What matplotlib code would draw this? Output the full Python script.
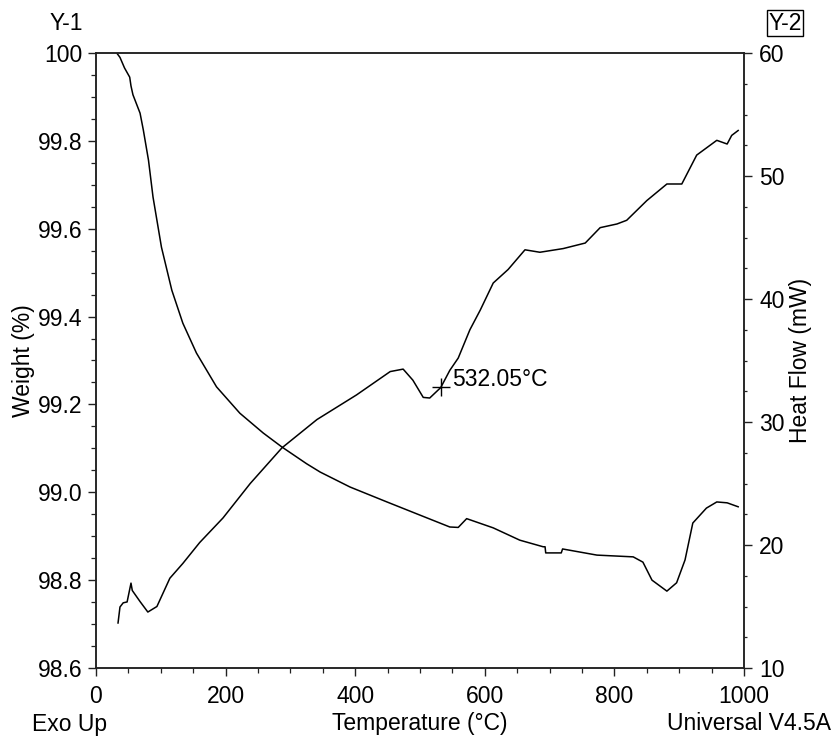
import matplotlib
matplotlib.use("Agg")
import matplotlib.pyplot as plt
import numpy as np
from matplotlib.ticker import MultipleLocator

plt.rcParams['font.family'] = ['Liberation Sans', 'DejaVu Sans']

# Weight curve (left axis, %)
weight_temp = [32, 37, 44, 52, 54, 57, 68, 73, 81, 88, 101, 117, 134, 155, 186, 222,
               258, 287, 325, 346, 392, 449, 500, 546, 559, 572, 613, 654, 690, 693,
               694, 718, 720, 773, 829, 844, 858, 881, 896, 909, 921, 942, 958, 974, 991]
weight_pct = [100.0, 99.99, 99.966, 99.945, 99.925, 99.905, 99.863, 99.825, 99.756,
              99.672, 99.558, 99.46, 99.385, 99.317, 99.24, 99.18, 99.135, 99.103,
              99.065, 99.046, 99.012, 98.978, 98.948, 98.921, 98.92, 98.94, 98.919,
              98.891, 98.876, 98.876, 98.862, 98.862, 98.871, 98.857, 98.853, 98.841,
              98.80, 98.775, 98.794, 98.846, 98.93, 98.964, 98.978, 98.976, 98.967]

# Heat flow curve (right axis, mW)
heat_temp = [34, 37, 42, 48, 54, 56, 68, 80, 94, 114, 134, 160, 196, 238, 287, 341,
             402, 454, 474, 489, 505, 515, 532, 546, 559, 577, 593, 613, 636, 662, 685,
             721, 755, 778, 804, 819, 850, 881, 904, 927, 958, 974, 981, 991]
heat_mw = [13.66, 14.96, 15.3, 15.37, 16.9, 16.3, 15.4, 14.55, 15.0, 17.3, 18.5, 20.2,
           22.2, 25.0, 27.9, 30.2, 32.2, 34.1, 34.3, 33.4, 32.0, 31.95, 32.8, 34.2,
           35.2, 37.5, 39.1, 41.3, 42.4, 44.0, 43.8, 44.1, 44.55, 45.8, 46.1, 46.4,
           48.0, 49.35, 49.35, 51.7, 52.9, 52.6, 53.3, 53.7]

marker_temp = 532.05
marker_label = "532.05°C"

fs = 16.5
fig = plt.figure(figsize=(8.34, 7.38), dpi=100)
ax = fig.add_axes([96/834, 1-668/738, (744-96)/834, (668-53)/738])
ax2 = ax.twinx()

ax.plot(weight_temp, weight_pct, color='black', lw=1.1)
ax2.plot(heat_temp, heat_mw, color='black', lw=1.1)
mhf = float(np.interp(marker_temp, heat_temp, heat_mw))
ax2.plot([marker_temp], [mhf], marker='+', color='black', ms=13, mew=1.0)
ax2.annotate(marker_label, (marker_temp, mhf), xytext=(8, 6), textcoords='offset points',
             fontsize=fs, va='center', ha='left')

ax.set_xlim(0, 1000)
ax.set_ylim(98.6, 100)
ax2.set_ylim(10, 60)

ax.xaxis.set_major_locator(MultipleLocator(200))
ax.xaxis.set_minor_locator(MultipleLocator(50))
ax.yaxis.set_major_locator(MultipleLocator(0.2))
ax.yaxis.set_minor_locator(MultipleLocator(0.05))
ax2.yaxis.set_major_locator(MultipleLocator(10))
ax2.yaxis.set_minor_locator(MultipleLocator(2.5))

ax.yaxis.set_major_formatter(matplotlib.ticker.FuncFormatter(
    lambda v, p: "100" if abs(v-100) < 1e-6 else f"{v:.1f}"))

for a in (ax, ax2):
    for s in a.spines.values():
        s.set_linewidth(1.1)
        s.set_color('#222222')

ax.tick_params(axis='both', which='major', direction='out', length=6, width=1.0,
               labelsize=fs, colors='#222222', labelcolor='black')
ax.tick_params(axis='both', which='minor', direction='out', length=3.5, width=0.9,
               colors='#222222')
ax.tick_params(axis='x', which='major', pad=6)
ax.tick_params(axis='y', which='major', pad=4)
ax2.tick_params(axis='y', which='major', direction='out', length=6, width=1.0,
                labelsize=fs, pad=5, colors='#222222', labelcolor='black')
ax2.tick_params(axis='y', which='minor', direction='out', length=2.5, width=0.9,
                colors='#222222')

ax.set_xlabel("Temperature (°C)", fontsize=fs, labelpad=3)
ax.set_ylabel("Weight (%)", fontsize=fs, labelpad=2)
ax2.set_ylabel("Heat Flow (mW)", fontsize=fs, labelpad=3)

fig.text(66/834, 1-24/738, "Y-1", fontsize=fs, ha='center', va='center')
fig.text(785/834, 1-23/738, "Y-2", fontsize=fs, ha='center', va='center',
         bbox=dict(boxstyle='square,pad=0.06', fc='none', ec='black', lw=1.0))
fig.text(32/834, 1-724/738, "Exo Up", fontsize=fs, ha='left', va='center')
fig.text(831/834, 1-724/738, "Universal V4.5A", fontsize=fs, ha='right', va='center')

fig.savefig("out.png", dpi=100, facecolor='white')
